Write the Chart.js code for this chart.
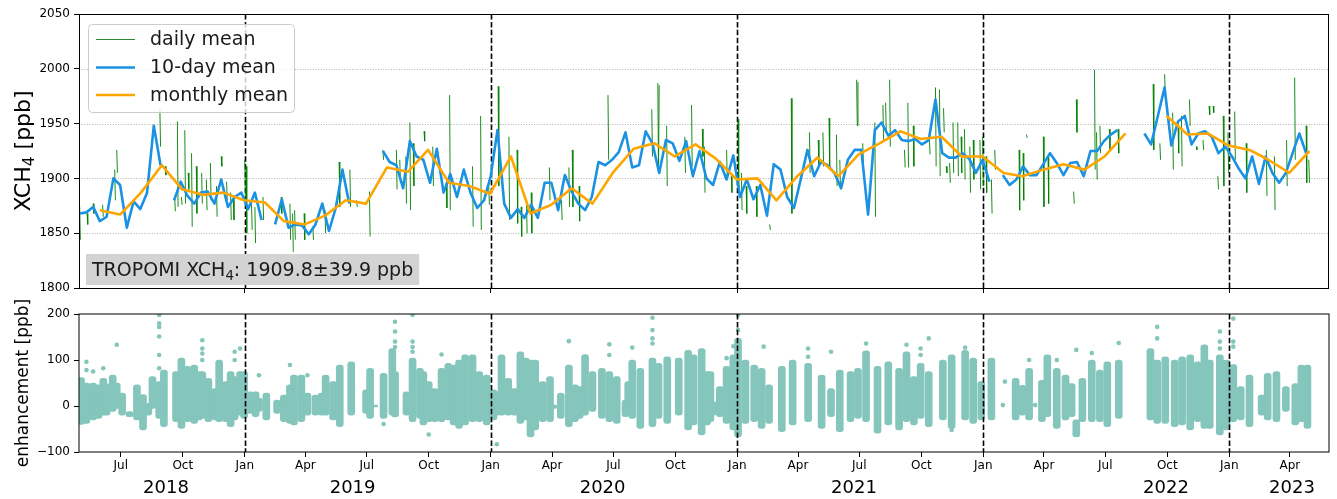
<!DOCTYPE html>
<html>
<head>
<meta charset="utf-8">
<title>TROPOMI XCH4 time series</title>
<script src="https://cdn.jsdelivr.net/npm/chart.js@4.4.1/dist/chart.umd.min.js"></script>
<style>
  html, body { margin: 0; padding: 0; background: #ffffff; }
  #wrap { position: relative; width: 1337px; height: 499px; overflow: hidden; }
  #wrap canvas { position: absolute; left: 0; top: 0; }
</style>
</head>
<body>
<div id="wrap">
  <canvas id="xch4Chart" width="1337" height="499" style="width:1337px;height:499px"></canvas>
  <canvas id="enhChart" width="1337" height="499" style="width:1337px;height:499px"></canvas>
</div>
<script>
// ---------------------------------------------------------------------------
// Data
// ---------------------------------------------------------------------------
const axisStart = '2018-04-30';
const axisEnd = '2023-05-29';

// daily mean XCH4 [ppb]: runs of consecutive days
const dailyRuns = [
  ['2018-05-01', [1874, 1844]], ['2018-05-12', [1868, 1858]], ['2018-05-21', [1877, 1868]],
  ['2018-06-04', [1876, 1865]], ['2018-06-22', [1908, 1880]], ['2018-06-25', [1926, 1905]],
  ['2018-08-28', [1963, 1929]], ['2018-09-05', [1911, 1903]], ['2018-09-19', [1883, 1870]],
  ['2018-09-23', [1952, 1874]], ['2018-09-29', [1883, 1876]], ['2018-10-04', [1944, 1877]],
  ['2018-10-09', [1905, 1890]], ['2018-10-14', [1923, 1856]], ['2018-10-21', [1911, 1868]],
  ['2018-10-29', [1905, 1877]], ['2018-11-05', [1899, 1871]], ['2018-11-11', [1914, 1880]],
  ['2018-11-20', [1893, 1865]], ['2018-11-27', [1920, 1911]], ['2018-12-05', [1897, 1880]],
  ['2018-12-11', [1887, 1862]], ['2018-12-15', [1882, 1862]], ['2019-01-01', [1917, 1877]],
  ['2019-01-03', [1911, 1850]], ['2019-01-11', [1877, 1853]], ['2019-01-16', [1874, 1841]],
  ['2019-01-28', [1883, 1862]], ['2019-02-24', [1883, 1868]], ['2019-03-09', [1877, 1844]],
  ['2019-03-13', [1868, 1833]], ['2019-03-16', [1871, 1844]], ['2019-03-30', [1868, 1844]],
  ['2019-04-12', [1856, 1844]], ['2019-04-30', [1871, 1850]], ['2019-05-21', [1915, 1874]],
  ['2019-06-06', [1908, 1874]], ['2019-06-16', [1880, 1874]], ['2019-07-05', [1888, 1847]],
  ['2019-07-25', [1926, 1917]], ['2019-08-14', [1926, 1890]], ['2019-08-19', [1917, 1896]],
  ['2019-08-28', [1920, 1877]], ['2019-09-03', [1951, 1871]], ['2019-09-08', [1932, 1893]],
  ['2019-09-24', [1943, 1934]], ['2019-10-07', [1929, 1893]], ['2019-10-27', [1896, 1873]],
  ['2019-11-01', [1976, 1871]], ['2019-12-05', [1911, 1856]], ['2019-12-17', [1957, 1853]],
  ['2019-12-29', [1893, 1876]], ['2020-01-12', [1984, 1893]], ['2020-01-28', [1938, 1862]],
  ['2020-02-09', [1926, 1859]], ['2020-02-15', [1874, 1847]], ['2020-02-23', [1880, 1850]],
  ['2020-03-01', [1887, 1850]], ['2020-03-28', [1910, 1880]], ['2020-04-15', [1880, 1862]],
  ['2020-04-26', [1910, 1874]], ['2020-05-01', [1926, 1874]], ['2020-05-11', [1893, 1861]],
  ['2020-06-23', [1976, 1917]], ['2020-08-27', [1963, 1920]], ['2020-09-05', [1987, 1905, 1985]],
  ['2020-09-18', [1948, 1893]], ['2020-10-15', [1938, 1905]], ['2020-10-25', [1967, 1911]],
  ['2020-11-10', [1945, 1920]], ['2020-11-13', [1929, 1887]], ['2020-12-16', [1926, 1899]],
  ['2020-12-23', [1902, 1887]], ['2021-01-02', [1954, 1887]], ['2021-01-07', [1905, 1871]],
  ['2021-01-14', [1893, 1868]], ['2021-01-29', [1893, 1865]], ['2021-02-18', [1858, 1853]],
  ['2021-03-22', [1973, 1868]], ['2021-04-18', [1942, 1905]], ['2021-05-01', [1935, 1911]],
  ['2021-05-08', [1942, 1911]], ['2021-05-17', [1955, 1908]], ['2021-05-28', [1940, 1893]],
  ['2021-06-02', [1917, 1890]], ['2021-06-27', [1990, 1948, 1988]], ['2021-07-06', [1932, 1914]],
  ['2021-07-24', [1951, 1865]], ['2021-08-05', [1967, 1935]], ['2021-08-09', [1969, 1942]],
  ['2021-08-15', [1990, 1929]], ['2021-09-06', [1926, 1910]], ['2021-09-11', [1969, 1910]],
  ['2021-09-19', [1948, 1911]], ['2021-10-13', [1935, 1922]], ['2021-10-22', [1983, 1911]],
  ['2021-10-28', [1981, 1902]], ['2021-11-03', [1964, 1942]], ['2021-11-07', [1911, 1905]],
  ['2021-11-12', [1914, 1896]], ['2021-11-17', [1951, 1905]], ['2021-11-24', [1951, 1902]],
  ['2021-11-29', [1938, 1905]], ['2021-12-04', [1945, 1899]], ['2021-12-12', [1929, 1887]],
  ['2021-12-17', [1935, 1899]], ['2021-12-27', [1935, 1890]], ['2021-12-31', [1938, 1893]],
  ['2022-01-05', [1920, 1887]], ['2022-01-13', [1899, 1868]], ['2022-01-18', [1926, 1908]],
  ['2022-02-23', [1926, 1871]], ['2022-03-01', [1923, 1880]], ['2022-03-06', [1940, 1937]],
  ['2022-03-31', [1938, 1874]], ['2022-04-07', [1920, 1877]], ['2022-05-15', [1888, 1877]],
  ['2022-05-19', [1972, 1942]], ['2022-06-15', [1999, 1908]], ['2022-06-18', [1942, 1899]],
  ['2022-06-23', [1948, 1923]], ['2022-07-07', [1945, 1926]], ['2022-07-20', [1945, 1923]],
  ['2022-09-10', [1986, 1926]], ['2022-09-20', [1932, 1917]], ['2022-09-27', [1995, 1978]],
  ['2022-10-09', [1960, 1908]], ['2022-10-17', [1948, 1923]], ['2022-10-22', [1957, 1911]],
  ['2022-11-03', [1972, 1948]], ['2022-11-13', [1929, 1926]], ['2022-11-23', [1935, 1926]],
  ['2022-12-02', [1966, 1958]], ['2022-12-08', [1966, 1960]], ['2022-12-15', [1902, 1890]],
  ['2022-12-23', [1957, 1893]], ['2022-12-30', [1942, 1905]], ['2023-01-09', [1961, 1917]],
  ['2023-01-26', [1932, 1887]], ['2023-02-25', [1926, 1884]], ['2023-03-09', [1920, 1871]],
  ['2023-03-27', [1935, 1893]], ['2023-04-08', [1992, 1917]], ['2023-04-25', [1948, 1896]],
  ['2023-04-29', [1917, 1896]]
];

// 10-day mean XCH4 [ppb], bins of 10 days from tenDayStart (null = no data)
const tenDayStart = '2018-05-01';
const tenDayStep = 10;
const tenDayValues = [
  1868, 1869, 1874, 1861, 1865, 1900, 1894, 1855, 1879, 1872,
  1887, 1948, 1912, null, 1880, 1897, 1884, 1877, 1887, 1888,
  1877, 1899, 1874, 1883, 1887, 1872, 1887, 1862, null, 1858,
  1881, 1855, 1858, 1857, 1849, 1858, 1877, 1852, 1873, 1908,
  1877, null, 1874, null, null, 1925, 1915, 1912, 1891, 1934,
  1920, 1917, 1896, 1927, 1887, 1904, 1883, 1908, 1887, 1873,
  1880, 1902, 1944, 1877, 1864, 1872, 1864, 1876, 1864, 1896,
  1896, 1871, 1903, 1888, 1877, 1871, 1883, 1915, 1912, 1917,
  1924, 1942, 1910, 1912, 1943, 1932, 1905, 1935, 1932, 1916,
  1934, 1902, 1925, 1900, 1894, 1915, 1899, 1921, 1883, 1899,
  1881, 1894, 1866, 1913, 1908, 1883, 1873, 1899, 1926, 1902,
  1915, 1912, 1905, 1891, 1917, 1926, 1926, 1867, 1944, 1951,
  1939, 1944, 1935, 1934, 1936, 1931, 1935, 1972, 1923, 1919,
  1919, 1923, 1918, 1905, 1917, 1897, null, 1903, 1894, 1899,
  1911, 1903, 1903, 1913, 1923, 1914, 1903, 1914, 1915, 1902,
  1925, 1925, 1934, 1940, 1944, null, null, null, 1941, 1931,
  1957, 1983, 1930, 1952, 1957, 1931, 1941, 1943, 1938, 1923,
  1929, 1920, 1909, 1900, 1920, 1895, 1920, 1905, 1896, 1905,
  1923, 1941, 1923
];

// monthly mean XCH4 [ppb], stamped at each month end from May 2018
const monthlyStartYear = 2018;
const monthlyStartMonth = 5;
const monthlyValues = [
  1871, 1867, 1887, 1912, 1890, 1885, 1887, 1880,
  1878, 1861, 1858, 1866, 1880, 1877, 1910, 1906, 1926, 1896, 1893, 1886,
  1920, 1868, 1876, 1891, 1877, 1905, 1927, 1932, 1920, 1931, 1918, 1899,
  1900, 1880, 1902, 1919, 1902, 1922, 1932, 1943, 1936, 1938, 1920, 1920,
  1905, 1902, 1908, 1913, 1908, 1920, 1941, null, 1957, 1940, 1941, 1930,
  1926, 1917, 1905, 1925
];

const statsLabel = ['TROPOMI XCH', '4', ': 1909.8\u00b139.9 ppb'];

// enhancement [ppb]: spread of the observations per overpass day
const enhancementBands = [
  ['2018-05-03', -40, 62], ['2018-05-11', -38, 50], ['2018-05-21', -30, 50], ['2018-05-29', -27, 46],
  ['2018-06-05', -20, 60], ['2018-06-10', -20, 48], ['2018-06-19', -12, 67], ['2018-06-25', -5, 50],
  ['2018-07-03', -20, 28], ['2018-07-14', -23, -12], ['2018-07-25', -30, 46], ['2018-08-03', -52, 25],
  ['2018-08-11', -20, 6], ['2018-08-17', -5, 64], ['2018-08-27', -27, 53], ['2018-09-03', -45, 78],
  ['2018-09-21', -34, 75], ['2018-09-29', -49, 104], ['2018-10-08', -34, 86], ['2018-10-18', -38, 89],
  ['2018-10-25', -30, 75], ['2018-10-30', -27, 75], ['2018-11-08', -34, 60], ['2018-11-18', -30, 38],
  ['2018-11-24', -34, 100], ['2018-12-04', -34, 53], ['2018-12-11', -45, 75], ['2018-12-17', -30, 64],
  ['2018-12-25', -20, 75], ['2018-12-31', -27, 75],
  ['2019-01-09', -16, 31], ['2019-01-17', -23, 31], ['2019-01-22', -12, 17], ['2019-02-02', -30, 28],
  ['2019-02-18', -16, 13], ['2019-02-28', -34, 24], ['2019-03-09', -38, 46], ['2019-03-15', -41, 67],
  ['2019-03-26', -34, 67], ['2019-04-04', -20, 28], ['2019-04-16', -20, 24], ['2019-04-25', -20, 28],
  ['2019-05-01', -20, 67], ['2019-05-12', -30, 53], ['2019-05-22', -45, 89], ['2019-06-08', -20, 96],
  ['2019-06-30', -16, 35], ['2019-07-06', -27, 82], ['2019-07-12', -2, 2], ['2019-07-26', -27, 71],
  ['2019-08-08', -20, 125], ['2019-08-12', -24, 75], ['2019-08-29', -20, 31], ['2019-09-07', -34, 104],
  ['2019-09-18', -27, 82], ['2019-09-23', -41, 75], ['2019-10-01', -34, 53], ['2019-10-10', -34, 38],
  ['2019-10-20', -34, 82], ['2019-10-30', -30, 93], ['2019-11-07', -41, 89], ['2019-11-15', -49, 100],
  ['2019-11-24', -41, 111], ['2019-12-05', -34, 111], ['2019-12-15', -34, 75], ['2019-12-26', -41, 67],
  ['2020-01-05', -30, 35], ['2020-01-10', -20, 31], ['2020-01-17', -20, 111], ['2020-01-27', -20, 60],
  ['2020-02-05', -20, 38], ['2020-02-14', -38, 118], ['2020-02-22', -30, 104], ['2020-02-29', -67, 100],
  ['2020-03-07', -52, 100], ['2020-03-18', -34, 53], ['2020-03-29', -34, 64], ['2020-04-03', -5, 2],
  ['2020-04-14', -27, 28], ['2020-04-26', -45, 89], ['2020-05-05', -34, 46], ['2020-05-12', -27, 42],
  ['2020-05-20', -20, 112], ['2020-05-31', -12, 75], ['2020-06-14', -27, 82], ['2020-06-25', -34, 75],
  ['2020-07-06', -38, 64], ['2020-07-19', -23, 13], ['2020-07-23', -12, 53], ['2020-07-29', -27, 100],
  ['2020-08-10', -49, 82], ['2020-08-28', -45, 104], ['2020-09-06', -27, 93], ['2020-09-19', -38, 107],
  ['2020-10-06', -20, 104], ['2020-10-20', -52, 121], ['2020-10-28', -41, 111], ['2020-11-09', -63, 125],
  ['2020-11-17', -41, 75], ['2020-11-22', -34, 75], ['2020-11-26', -20, 9], ['2020-12-06', -23, 42],
  ['2020-12-16', -38, 86], ['2020-12-26', -52, 111],
  ['2021-01-02', -67, 147], ['2021-01-13', -38, 100], ['2021-01-26', -34, 89], ['2021-02-06', -49, 82],
  ['2021-02-17', -38, 46], ['2021-03-08', -56, 86], ['2021-03-24', -41, 100], ['2021-04-16', -34, 93],
  ['2021-05-06', -49, 67], ['2021-05-20', -23, 38], ['2021-06-02', -56, 78], ['2021-06-18', -34, 75],
  ['2021-06-29', -27, 82], ['2021-07-11', -34, 120], ['2021-07-28', -59, 86], ['2021-08-13', -41, 96],
  ['2021-08-29', -52, 82], ['2021-09-09', -34, 118], ['2021-09-20', -41, 64], ['2021-09-30', -27, 93],
  ['2021-10-12', -45, 75], ['2021-11-02', -30, 100], ['2021-11-15', -49, 111], ['2021-12-05', -30, 121],
  ['2021-12-17', -38, 104], ['2021-12-29', -30, 53],
  ['2022-01-13', -30, 104], ['2022-02-18', -30, 60], ['2022-02-28', -20, 45], ['2022-03-10', -30, 82],
  ['2022-03-29', -34, 56], ['2022-04-06', -23, 111], ['2022-04-20', -49, 82], ['2022-05-03', -30, 67],
  ['2022-05-12', -23, 49], ['2022-05-19', -67, -30], ['2022-05-28', -34, 60], ['2022-06-11', -34, 100],
  ['2022-06-23', -34, 78], ['2022-07-04', -45, 96], ['2022-07-21', -27, 100], ['2022-09-06', -30, 125],
  ['2022-09-16', -38, 100], ['2022-09-28', -38, 107], ['2022-10-12', -45, 100], ['2022-10-23', -41, 107],
  ['2022-11-04', -52, 111], ['2022-11-15', -34, 96], ['2022-11-25', -49, 133], ['2022-12-03', -49, 100],
  ['2022-12-18', -63, 111], ['2022-12-28', -52, 100],
  ['2023-01-07', -34, 90], ['2023-01-18', -30, 42], ['2023-01-31', -45, 67], ['2023-02-18', -20, 24],
  ['2023-02-27', -30, 71], ['2023-03-12', -34, 75], ['2023-03-26', -12, 42], ['2023-04-09', -41, 49],
  ['2023-04-18', -34, 89], ['2023-04-27', -49, 89]
];

// enhancement [ppb]: isolated observations outside the daily spread
const enhancementOutliers = [
  ['2018-05-11', 96], ['2018-05-11', 78], ['2018-05-21', 75], ['2018-06-05', 82], ['2018-06-25', 133],
  ['2018-08-27', 198], ['2018-08-27', 180], ['2018-08-27', 172], ['2018-08-27', 151], ['2018-08-27', 111],
  ['2018-08-27', 82], ['2018-10-30', 143], ['2018-10-30', 125], ['2018-10-30', 114], ['2018-10-30', 100],
  ['2018-12-17', 118], ['2018-12-17', 100], ['2018-12-25', 125],
  ['2019-01-22', 67], ['2019-03-09', 89], ['2019-04-04', 67], ['2019-07-26', -39],
  ['2019-08-12', 183], ['2019-08-12', 162], ['2019-08-12', 140], ['2019-08-12', 128],
  ['2019-09-07', 198], ['2019-09-07', 140], ['2019-09-07', 128], ['2019-09-07', 118],
  ['2019-10-01', -62], ['2019-10-20', 112],
  ['2020-01-10', -83], ['2020-04-26', 141], ['2020-06-25', 134], ['2020-06-25', 111], ['2020-07-29', 127],
  ['2020-08-28', 192], ['2020-08-28', 165], ['2020-08-28', 147], ['2020-08-28', 136],
  ['2020-12-16', 104], ['2020-12-26', 130],
  ['2021-01-02', 198], ['2021-01-02', 165], ['2021-02-09', 129], ['2021-04-16', 125], ['2021-04-16', 107],
  ['2021-05-20', 118], ['2021-07-11', 136], ['2021-09-09', 133], ['2021-09-30', 125], ['2021-09-30', 111],
  ['2021-10-12', 147], ['2021-11-15', -52], ['2021-12-05', 127],
  ['2022-01-30', 2], ['2022-02-02', 53], ['2022-03-10', 100], ['2022-03-19', 2], ['2022-04-20', 100],
  ['2022-05-19', 122], ['2022-06-11', 115], ['2022-07-21', 137], ['2022-09-16', 172], ['2022-09-16', 147],
  ['2022-12-18', 162], ['2022-12-18', 140], ['2022-12-18', 125],
  ['2023-01-07', 190], ['2023-01-07', 140], ['2023-01-07', 129]
];

// axis ticks and labels
const tickDates = [
  '2018-07-01', '2018-10-01', '2019-01-01', '2019-04-01', '2019-07-01', '2019-10-01',
  '2020-01-01', '2020-04-01', '2020-07-01', '2020-10-01', '2021-01-01', '2021-04-01',
  '2021-07-01', '2021-10-01', '2022-01-01', '2022-04-01', '2022-07-01', '2022-10-01',
  '2023-01-01', '2023-04-01'
];
const tickLabels = [
  'Jul', 'Oct', 'Jan', 'Apr', 'Jul', 'Oct', 'Jan', 'Apr', 'Jul', 'Oct',
  'Jan', 'Apr', 'Jul', 'Oct', 'Jan', 'Apr', 'Jul', 'Oct', 'Jan', 'Apr'
];
const yearLabels = ['2018', '2019', '2020', '2021', '2022', '2023'];
const yearLabelDates = ['2018-09-06', '2019-06-10', '2020-06-15', '2021-06-23', '2022-09-29', '2023-04-04'];
const yearBoundaries = ['2019-01-01', '2020-01-01', '2021-01-01', '2022-01-01', '2023-01-01'];

// ---------------------------------------------------------------------------
// Helpers
// ---------------------------------------------------------------------------
const EPOCH = Date.UTC(2018, 0, 1);
const DAY = 86400000;
function dayNumber(iso) {
  const [y, m, d] = iso.split('-').map(Number);
  return (Date.UTC(y, m - 1, d) - EPOCH) / DAY;
}
function monthEndDay(year, month) {
  return (Date.UTC(year, month, 0) - EPOCH) / DAY;
}

const FONT = '"DejaVu Sans", "Liberation Sans", sans-serif';
const COLORS = {
  daily: 'rgba(0,128,0,0.9)',
  tenDay: '#1a91e2',
  monthly: '#ffa500',
  enh: '#84c5bc'
};

// text with a lowered, smaller run for chemical subscripts
function richWidth(ctx, parts, size) {
  let w = 0;
  parts.forEach(p => {
    ctx.font = (p.sub ? size * 0.7 : size) + 'px ' + FONT;
    w += ctx.measureText(p.t).width;
  });
  return w;
}
function drawRich(ctx, parts, x, y, size) {
  let cx = x;
  parts.forEach(p => {
    const s = p.sub ? size * 0.7 : size;
    ctx.font = s + 'px ' + FONT;
    ctx.fillText(p.t, cx, p.sub ? y + size * 0.2 : y);
    cx += ctx.measureText(p.t).width;
  });
}

// ---------------------------------------------------------------------------
// Series
// ---------------------------------------------------------------------------
const dailyPoints = [];
dailyRuns.forEach(([start, vals]) => {
  const d0 = dayNumber(start);
  vals.forEach((v, k) => dailyPoints.push({ x: d0 + k, y: v }));
  dailyPoints.push({ x: d0 + vals.length - 0.5, y: null });
});
const tenDayPoints = tenDayValues.map((v, i) => ({ x: dayNumber(tenDayStart) + tenDayStep * i, y: v }));
const monthlyPoints = monthlyValues.map((v, i) => ({ x: monthEndDay(monthlyStartYear, monthlyStartMonth + i), y: v }));

const bandPoints = enhancementBands.map(([d, lo, hi]) => ({ x: dayNumber(d), y: [lo, hi] }));
const outlierPoints = enhancementOutliers.map(([d, v]) => ({ x: dayNumber(d), y: v }));

const xMin = dayNumber(axisStart);
const xMax = dayNumber(axisEnd);
const tickDays = tickDates.map(dayNumber);
const boundaryDays = yearBoundaries.map(dayNumber);

// ---------------------------------------------------------------------------
// Shared drawing plugins
// ---------------------------------------------------------------------------
function drawYearLines(chart) {
  const { ctx, chartArea } = chart;
  const xs = chart.scales.x;
  ctx.save();
  ctx.strokeStyle = '#000';
  ctx.lineWidth = 1.6;
  ctx.setLineDash([5.5, 2.4]);
  boundaryDays.forEach(d => {
    const px = Math.round(xs.getPixelForValue(d)) + 0.5;
    ctx.beginPath();
    ctx.moveTo(px, chartArea.top);
    ctx.lineTo(px, chartArea.bottom);
    ctx.stroke();
  });
  ctx.restore();
}

const xch4Decor = {
  id: 'xch4Decor',
  beforeDatasetsDraw(chart) {
    const { ctx, chartArea } = chart;
    const ys = chart.scales.y;
    // dotted horizontal grid
    ctx.save();
    ctx.strokeStyle = '#b0b0b0';
    ctx.lineWidth = 1;
    ctx.setLineDash([1, 1.6]);
    ys.ticks.forEach(t => {
      if (t.value <= ys.min || t.value >= ys.max) return;
      const py = Math.round(ys.getPixelForValue(t.value)) + 0.5;
      ctx.beginPath();
      ctx.moveTo(chartArea.left, py);
      ctx.lineTo(chartArea.right, py);
      ctx.stroke();
    });
    ctx.restore();
    drawYearLines(chart);
  },
  afterDatasetsDraw(chart) {
    const { ctx, chartArea } = chart;
    // frame
    ctx.save();
    ctx.strokeStyle = '#000';
    ctx.lineWidth = 1;
    ctx.strokeRect(chartArea.left + 0.5, chartArea.top + 0.5,
      chartArea.right - chartArea.left - 1, chartArea.bottom - chartArea.top);
    ctx.restore();

    // statistics box
    ctx.save();
    const size = 19;
    const parts = [{ t: statsLabel[0] }, { t: statsLabel[1], sub: true }, { t: statsLabel[2] }];
    const w = richWidth(ctx, parts, size);
    const bx = 86, by = 254, bh = 31;
    ctx.fillStyle = '#d3d3d3';
    ctx.fillRect(bx, by, w + 12, bh);
    ctx.fillStyle = '#1a1a1a';
    ctx.textBaseline = 'alphabetic';
    ctx.textAlign = 'left';
    drawRich(ctx, parts, bx + 6, by + 22, size);
    ctx.restore();

    // legend
    ctx.save();
    const lx = 88.5, ly = 24.5, lw = 206, lh = 88, r = 4;
    ctx.beginPath();
    ctx.moveTo(lx + r, ly);
    ctx.arcTo(lx + lw, ly, lx + lw, ly + lh, r);
    ctx.arcTo(lx + lw, ly + lh, lx, ly + lh, r);
    ctx.arcTo(lx, ly + lh, lx, ly, r);
    ctx.arcTo(lx, ly, lx + lw, ly, r);
    ctx.closePath();
    ctx.fillStyle = 'rgba(255,255,255,0.8)';
    ctx.fill();
    ctx.strokeStyle = '#cccccc';
    ctx.lineWidth = 1;
    ctx.stroke();
    const rows = [39.5, 67.5, 95];
    const keyOrder = [0, 1, 2];
    keyOrder.forEach((di, k) => {
      const ds = chart.data.datasets[di];
      ctx.strokeStyle = ds.legendColor || ds.borderColor;
      ctx.lineWidth = ds.borderWidth;
      ctx.beginPath();
      ctx.moveTo(96, rows[k]);
      ctx.lineTo(135, rows[k]);
      ctx.stroke();
      ctx.fillStyle = '#1a1a1a';
      ctx.font = '19px ' + FONT;
      ctx.textBaseline = 'middle';
      ctx.fillText(ds.label, 150, rows[k] + 1);
    });
    ctx.restore();
  },
  afterDraw(chart) {
    const { ctx, chartArea } = chart;
    ctx.save();
    const size = 22;
    const parts = [{ t: 'XCH' }, { t: '4', sub: true }, { t: ' [ppb]' }];
    const w = richWidth(ctx, parts, size);
    ctx.translate(30, (chartArea.top + chartArea.bottom) / 2);
    ctx.rotate(-Math.PI / 2);
    ctx.fillStyle = '#000';
    ctx.textBaseline = 'alphabetic';
    drawRich(ctx, parts, -w / 2, 0, size);
    ctx.restore();
  }
};

const enhDecor = {
  id: 'enhDecor',
  afterDatasetsDraw(chart) {
    const { ctx, chartArea } = chart;
    drawYearLines(chart);
    ctx.save();
    ctx.strokeStyle = '#000';
    ctx.lineWidth = 1;
    ctx.strokeRect(chartArea.left, chartArea.top,
      chartArea.right - chartArea.left, chartArea.bottom - chartArea.top);
    ctx.restore();
  },
  afterDraw(chart) {
    const { ctx, chartArea } = chart;
    const xs = chart.scales.x;
    ctx.save();
    ctx.fillStyle = '#000';
    ctx.font = '18px ' + FONT;
    ctx.textAlign = 'center';
    ctx.textBaseline = 'alphabetic';
    yearLabels.forEach((lab, i) => {
      ctx.fillText(lab, xs.getPixelForValue(dayNumber(yearLabelDates[i])), 493);
    });
    // y title
    ctx.font = '17px ' + FONT;
    ctx.translate(28, (chartArea.top + chartArea.bottom) / 2);
    ctx.rotate(-Math.PI / 2);
    ctx.fillText('enhancement [ppb]', 0, 0);
    ctx.restore();
  }
};

// ---------------------------------------------------------------------------
// Charts
// ---------------------------------------------------------------------------
const tickFont = { family: FONT, size: 12 };

new Chart(document.getElementById('xch4Chart'), {
  type: 'line',
  data: {
    datasets: [
      { label: 'daily mean', data: dailyPoints, borderColor: COLORS.daily, legendColor: '#2a8a2a',
        borderWidth: 1, pointRadius: 0, spanGaps: false, order: 3 },
      { label: '10-day mean', data: tenDayPoints, borderColor: COLORS.tenDay,
        borderWidth: 2.6, pointRadius: 0, spanGaps: false, order: 2 },
      { label: 'monthly mean', data: monthlyPoints, borderColor: COLORS.monthly,
        borderWidth: 2.6, pointRadius: 0, spanGaps: false, order: 1 }
    ]
  },
  options: {
    responsive: false,
    animation: false,
    devicePixelRatio: 1,
    layout: { padding: { left: 0, top: 14, right: 8, bottom: 0 } },
    plugins: { legend: { display: false }, tooltip: { enabled: false } },
    elements: { line: { tension: 0, borderCapStyle: 'butt', borderJoinStyle: 'round' } },
    scales: {
      x: {
        type: 'linear', min: xMin, max: xMax,
        afterBuildTicks: s => { s.ticks = boundaryDays.map(v => ({ value: v })); },
        afterFit: s => { s.height = 211; },
        ticks: { display: false },
        grid: { drawOnChartArea: false, drawTicks: true, tickLength: 5, color: '#000', lineWidth: 1 },
        border: { display: false }
      },
      y: {
        type: 'linear', min: 1800, max: 2050,
        afterFit: s => { s.width = 79; },
        ticks: { stepSize: 50, font: tickFont, color: '#000', padding: 4, callback: v => String(v) },
        grid: { drawOnChartArea: false, drawTicks: true, tickLength: 5, color: '#000', lineWidth: 1 },
        border: { display: false }
      }
    }
  },
  plugins: [xch4Decor]
});

new Chart(document.getElementById('enhChart'), {
  type: 'bar',
  data: {
    datasets: [
      { type: 'bar', label: 'enhancement', data: bandPoints, backgroundColor: COLORS.enh,
        barThickness: 7, borderRadius: 3, borderSkipped: false, grouped: false },
      { type: 'scatter', label: 'enhancement outliers', data: outlierPoints,
        backgroundColor: COLORS.enh, borderWidth: 0, pointRadius: 2.3 }
    ]
  },
  options: {
    responsive: false,
    animation: false,
    devicePixelRatio: 1,
    layout: { padding: { left: 0, top: 314, right: 8, bottom: 0 } },
    plugins: { legend: { display: false }, tooltip: { enabled: false } },
    scales: {
      x: {
        type: 'linear', min: xMin, max: xMax, offset: false,
        afterBuildTicks: s => { s.ticks = tickDays.map(v => ({ value: v })); },
        afterFit: s => { s.height = 47; },
        ticks: {
          autoSkip: false, maxRotation: 0, font: tickFont, color: '#000', padding: 2,
          callback: (v, i) => tickLabels[i]
        },
        grid: { offset: false, drawOnChartArea: false, drawTicks: true, tickLength: 5, color: '#000', lineWidth: 1 },
        border: { display: false }
      },
      y: {
        type: 'linear', min: -100, max: 200,
        afterFit: s => { s.width = 79; },
        ticks: {
          stepSize: 100, font: tickFont, color: '#000', padding: 4,
          callback: v => (v < 0 ? '\u2212' + Math.abs(v) : String(v))
        },
        grid: { drawOnChartArea: false, drawTicks: true, tickLength: 5, color: '#000', lineWidth: 1 },
        border: { display: false }
      }
    }
  },
  plugins: [enhDecor]
});
</script>
</body>
</html>
